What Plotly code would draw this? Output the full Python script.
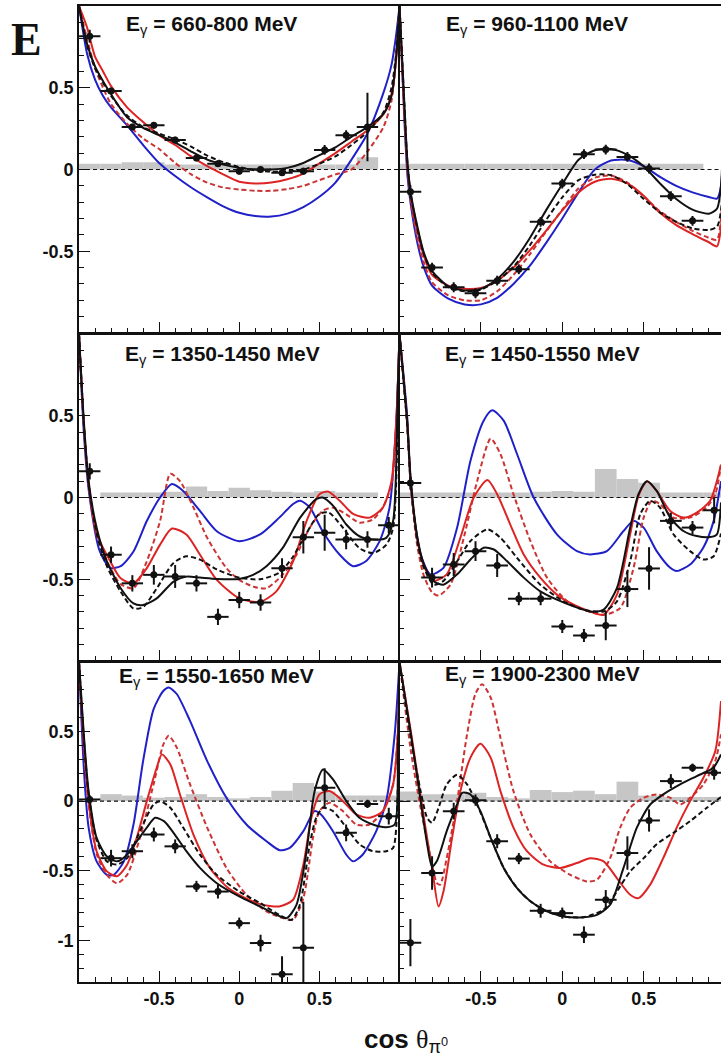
import plotly.graph_objects as go

# ---------------------------------------------------------------------------
# Binning in cos(theta_pi0): 15 bins of width 2/15
# ---------------------------------------------------------------------------
cos_bins = [-0.933, -0.8, -0.667, -0.533, -0.4, -0.267, -0.133, 0.0,
            0.133, 0.267, 0.4, 0.533, 0.667, 0.8, 0.933]
bin_width = 0.1333

# ---------------------------------------------------------------------------
# E_gamma = 660-800 MeV
# ---------------------------------------------------------------------------
e660_y = [0.815, 0.48, 0.26, 0.27, 0.18, 0.07, 0.035, -0.01, 0.0, -0.02, -0.01, 0.12, 0.21, 0.26]
e660_err = [0.04, 0.02, 0.02, 0.02, 0.02, 0.02, 0.02, 0.02, 0.01, 0.02, 0.02, 0.03, 0.03, 0.21]
e660_sys = [0.035, 0.035, 0.045, 0.045, 0.03, 0.03, 0.03, 0.03, 0.03, 0.03, 0.03, 0.03, 0.03, 0.075, 0.0]
e660_grid = [-1, -0.95, -0.9, -0.85, -0.8, -0.7, -0.6, -0.5, -0.4, -0.3, -0.2, -0.1, 0,
             0.1, 0.2, 0.3, 0.4, 0.5, 0.6, 0.7, 0.8, 0.9, 0.95, 0.98, 1]
e660_bs = [1.0, 0.77, 0.63, 0.54, 0.46, 0.32, 0.255, 0.21, 0.165, 0.11, 0.06, 0.03, 0.01,
           0.0, 0.0, 0.01, 0.04, 0.088, 0.135, 0.2, 0.26, 0.34, 0.45, 0.7, 1.0]
e660_bd = [1.0, 0.76, 0.62, 0.53, 0.45, 0.33, 0.26, 0.22, 0.185, 0.14, 0.085, 0.045, 0.015,
           -0.005, -0.013, -0.01, 0.0, 0.035, 0.08, 0.15, 0.23, 0.35, 0.5, 0.72, 1.0]
e660_rs = [1.0, 0.87, 0.69, 0.6, 0.51, 0.38, 0.29, 0.21, 0.15, 0.08, 0.02, -0.03, -0.075,
           -0.085, -0.08, -0.06, -0.025, 0.037, 0.1, 0.17, 0.24, 0.34, 0.46, 0.68, 1.0]
e660_rd = [1.0, 0.8, 0.62, 0.5, 0.4, 0.28, 0.19, 0.125, 0.04, -0.03, -0.08, -0.11, -0.122,
           -0.13, -0.13, -0.12, -0.1, -0.065, -0.03, 0.0, 0.11, 0.26, 0.42, 0.7, 1.0]
e660_bl = [1.0, 0.71, 0.55, 0.45, 0.38, 0.27, 0.15, 0.04, -0.04, -0.11, -0.17, -0.225, -0.265,
           -0.285, -0.288, -0.27, -0.23, -0.167, -0.08, 0.06, 0.22, 0.47, 0.64, 0.83, 1.0]

# ---------------------------------------------------------------------------
# E_gamma = 960-1100 MeV
# ---------------------------------------------------------------------------
e960_y = [-0.136, -0.60, -0.72, -0.757, -0.68, -0.61, -0.32, -0.086, 0.094, 0.122, 0.077, 0.006, -0.163, -0.314]
e960_err = [0.04, 0.03, 0.03, 0.03, 0.03, 0.03, 0.03, 0.03, 0.03, 0.03, 0.03, 0.03, 0.03, 0.03]
e960_sys = [0.035, 0.035, 0.035, 0.035, 0.035, 0.035, 0.035, 0.035, 0.035, 0.035, 0.035, 0.035, 0.035, 0.035, 0.0]
e960_grid = [-1, -0.97, -0.95, -0.93, -0.89, -0.85, -0.8, -0.7, -0.6, -0.5, -0.4, -0.3, -0.2, -0.1,
             0, 0.1, 0.2, 0.3, 0.4, 0.5, 0.6, 0.7, 0.8, 0.9, 0.95, 0.975, 1]
e960_bs = [1.0, 0.4, 0.03, -0.147, -0.35, -0.51, -0.62, -0.715, -0.74, -0.73, -0.67, -0.565, -0.42, -0.25,
           -0.09, 0.06, 0.118, 0.125, 0.09, 0.02, -0.085, -0.18, -0.245, -0.27, -0.24, -0.1, 1.0]
e960_bd = [1.0, 0.4, 0.02, -0.16, -0.36, -0.52, -0.63, -0.72, -0.745, -0.735, -0.68, -0.595, -0.465, -0.31,
           -0.17, -0.065, -0.032, -0.035, -0.09, -0.18, -0.262, -0.32, -0.36, -0.37, -0.35, -0.25, 1.0]
e960_rs = [1.0, 0.35, 0.0, -0.17, -0.38, -0.53, -0.645, -0.71, -0.73, -0.725, -0.68, -0.6, -0.495, -0.375,
           -0.25, -0.14, -0.075, -0.056, -0.085, -0.16, -0.265, -0.34, -0.395, -0.445, -0.47, -0.35, 1.0]
e960_rd = [1.0, 0.35, -0.02, -0.2, -0.42, -0.57, -0.69, -0.77, -0.8, -0.8, -0.745, -0.645, -0.52, -0.38,
           -0.245, -0.115, -0.05, -0.037, -0.08, -0.165, -0.255, -0.32, -0.375, -0.418, -0.43, -0.3, 1.0]
e960_bl = [1.0, 0.3, -0.05, -0.22, -0.45, -0.6, -0.71, -0.79, -0.825, -0.825, -0.785, -0.7, -0.59, -0.45,
           -0.3, -0.14, 0.0, 0.055, 0.058, 0.02, -0.045, -0.1, -0.14, -0.168, -0.178, -0.1, 1.0]

# ---------------------------------------------------------------------------
# E_gamma = 1350-1450 MeV
# ---------------------------------------------------------------------------
e1350_y = [0.16, -0.35, -0.525, -0.473, -0.483, -0.525, -0.73, -0.627, -0.642, -0.432, -0.243, -0.216, -0.257, -0.257, -0.169]
e1350_err = [0.05, 0.05, 0.05, 0.06, 0.07, 0.05, 0.05, 0.05, 0.05, 0.06, 0.1, 0.11, 0.06, 0.05, 0.05]
e1350_sys = [0.0, 0.03, 0.03, 0.03, 0.035, 0.068, 0.04, 0.06, 0.045, 0.035, 0.03, 0.04, 0.03, 0.03, 0.0]
e1350_bs_x = [-1, -0.97, -0.94, -0.89, -0.826, -0.74, -0.66, -0.6, -0.515, -0.41, -0.33, -0.245, -0.14, 0,
              0.087, 0.17, 0.27, 0.38, 0.48, 0.52, 0.585, 0.668, 0.75, 0.834, 0.917, 0.96, 0.99, 1]
e1350_bs_y = [1.0, 0.47, 0.1, -0.185, -0.39, -0.555, -0.648, -0.658, -0.617, -0.514, -0.484, -0.49, -0.498, -0.498,
              -0.473, -0.42, -0.31, -0.123, -0.01, 0.0, -0.05, -0.165, -0.237, -0.257, -0.247, -0.144, 0.68, 1.0]
e1350_bd_x = [-1, -0.97, -0.94, -0.89, -0.826, -0.74, -0.66, -0.6, -0.515, -0.41, -0.33, -0.245, -0.14, 0,
              0.13, 0.25, 0.33, 0.415, 0.5, 0.56, 0.647, 0.75, 0.834, 0.917, 0.96, 0.99, 1]
e1350_bd_y = [1.0, 0.45, 0.08, -0.22, -0.42, -0.576, -0.679, -0.67, -0.556, -0.40, -0.36, -0.38, -0.44, -0.49,
              -0.5, -0.46, -0.37, -0.226, -0.10, -0.093, -0.185, -0.31, -0.34, -0.29, -0.185, 0.5, 1.0]
e1350_rs_x = [-1, -0.97, -0.94, -0.89, -0.805, -0.74, -0.66, -0.577, -0.494, -0.42, -0.33, -0.245, -0.14, 0,
              0.13, 0.23, 0.336, 0.42, 0.5, 0.554, 0.627, 0.71, 0.813, 0.896, 0.95, 0.98, 1]
e1350_rs_y = [1.0, 0.45, 0.08, -0.22, -0.39, -0.494, -0.525, -0.432, -0.288, -0.19, -0.226, -0.35, -0.504, -0.617,
              -0.638, -0.576, -0.39, -0.144, 0.02, 0.037, -0.02, -0.10, -0.123, -0.062, 0.1, 0.47, 1.0]
e1350_rd_x = [-1, -0.97, -0.94, -0.89, -0.805, -0.74, -0.66, -0.577, -0.494, -0.43, -0.37, -0.286, -0.2, -0.08,
              0, 0.087, 0.17, 0.27, 0.357, 0.44, 0.52, 0.585, 0.668, 0.75, 0.834, 0.896, 0.95, 0.98, 1]
e1350_rd_y = [1.0, 0.45, 0.08, -0.23, -0.43, -0.53, -0.555, -0.39, -0.144, 0.145, 0.1, -0.06, -0.247, -0.432,
              -0.504, -0.545, -0.555, -0.473, -0.35, -0.185, -0.082, -0.062, -0.103, -0.154, -0.134, -0.06, 0.08, 0.45, 1.0]
e1350_bl_x = [-1, -0.97, -0.94, -0.87, -0.805, -0.74, -0.66, -0.577, -0.494, -0.42, -0.35, -0.245, -0.14, 0,
              0.13, 0.25, 0.336, 0.38, 0.44, 0.52, 0.627, 0.71, 0.79, 0.876, 0.938, 0.98, 1]
e1350_bl_y = [1.0, 0.4, 0.05, -0.33, -0.43, -0.42, -0.33, -0.144, 0.0, 0.082, 0.04, -0.082, -0.206, -0.267,
              -0.226, -0.123, -0.04, -0.02, -0.06, -0.206, -0.35, -0.42, -0.39, -0.267, -0.06, 0.47, 1.0]

# ---------------------------------------------------------------------------
# E_gamma = 1450-1550 MeV
# ---------------------------------------------------------------------------
e1450_y = [0.088, -0.49, -0.41, -0.328, -0.416, -0.619, -0.619, -0.789, -0.844, -0.783, -0.56, -0.434, -0.143, -0.184, -0.078]
e1450_err = [0.04, 0.06, 0.07, 0.06, 0.07, 0.04, 0.04, 0.04, 0.04, 0.09, 0.11, 0.13, 0.05, 0.04, 0.08]
e1450_sys = [0.03, 0.03, 0.03, 0.03, 0.03, 0.03, 0.035, 0.04, 0.035, 0.174, 0.113, 0.09, 0.03, 0.03, 0.03]
e1450_bs_x = [-1, -0.953, -0.93, -0.89, -0.85, -0.79, -0.73, -0.646, -0.564, -0.483, -0.42, -0.34, -0.237, -0.135,
              -0.033, 0.07, 0.17, 0.254, 0.336, 0.417, 0.468, 0.52, 0.58, 0.663, 0.744, 0.826, 0.908, 0.95, 0.975]
e1450_bs_y = [1.0, 0.47, 0.1, -0.246, -0.41, -0.512, -0.533, -0.47, -0.379, -0.307, -0.318, -0.389, -0.49, -0.574,
              -0.625, -0.666, -0.697, -0.686, -0.553, -0.184, 0.02, 0.10, 0.04, -0.123, -0.205, -0.236, -0.242, -0.225, -0.03]
e1450_bd_x = [-1, -0.953, -0.93, -0.89, -0.85, -0.79, -0.73, -0.646, -0.564, -0.46, -0.38, -0.278, -0.135, 0.008,
              0.13, 0.254, 0.336, 0.417, 0.48, 0.54, 0.6, 0.683, 0.785, 0.866, 0.93, 0.975]
e1450_bd_y = [1.0, 0.45, 0.08, -0.27, -0.43, -0.533, -0.51, -0.39, -0.266, -0.195, -0.246, -0.369, -0.533, -0.635,
              -0.686, -0.697, -0.635, -0.39, -0.10, -0.02, -0.061, -0.225, -0.328, -0.379, -0.359, -0.22]
e1450_rs_x = [-1, -0.953, -0.93, -0.89, -0.85, -0.79, -0.71, -0.626, -0.544, -0.46, -0.40, -0.32, -0.237, -0.135,
              -0.033, 0.07, 0.17, 0.254, 0.336, 0.417, 0.468, 0.52, 0.58, 0.663, 0.744, 0.826, 0.908, 0.975]
e1450_rs_y = [1.0, 0.45, 0.08, -0.26, -0.42, -0.51, -0.47, -0.246, 0.0, 0.107, 0.02, -0.164, -0.348, -0.49,
              -0.594, -0.656, -0.697, -0.717, -0.594, -0.225, 0.01, 0.10, 0.04, -0.082, -0.123, -0.092, -0.02, 0.2]
e1450_rd_x = [-1, -0.953, -0.93, -0.89, -0.85, -0.80, -0.76, -0.687, -0.605, -0.523, -0.44, -0.38, -0.3, -0.196,
              -0.094, 0.03, 0.13, 0.254, 0.356, 0.438, 0.5, 0.55, 0.6, 0.683, 0.785, 0.887, 0.94, 0.975]
e1450_rd_y = [1.0, 0.45, 0.06, -0.3, -0.48, -0.58, -0.60, -0.533, -0.246, 0.10, 0.36, 0.266, 0.02, -0.266,
              -0.49, -0.635, -0.686, -0.717, -0.676, -0.43, -0.123, -0.02, -0.04, -0.123, -0.123, -0.06, 0.02, 0.2]
e1450_bl_x = [-1, -0.953, -0.93, -0.87, -0.81, -0.73, -0.646, -0.564, -0.483, -0.43, -0.36, -0.278, -0.176, -0.033,
              0.09, 0.17, 0.274, 0.376, 0.438, 0.5, 0.58, 0.663, 0.703, 0.785, 0.866, 0.93, 0.975]
e1450_bl_y = [1.0, 0.5, 0.06, -0.348, -0.47, -0.43, -0.184, 0.225, 0.47, 0.533, 0.47, 0.266, 0.0, -0.225,
              -0.328, -0.348, -0.328, -0.205, -0.143, -0.184, -0.328, -0.43, -0.45, -0.41, -0.307, -0.143, 0.1]

# ---------------------------------------------------------------------------
# E_gamma = 1550-1650 MeV
# ---------------------------------------------------------------------------
e1550_y = [0.012, -0.41, -0.36, -0.24, -0.325, -0.613, -0.65, -0.877, -1.02, -1.245, -1.053, 0.096, -0.228, -0.02, -0.108]
e1550_err = [0.03, 0.06, 0.05, 0.05, 0.05, 0.04, 0.05, 0.04, 0.06, 0.13, 0.33, 0.14, 0.06, 0.03, 0.06]
e1550_sys = [0.0, 0.05, 0.04, 0.025, 0.03, 0.05, 0.03, 0.02, 0.03, 0.075, 0.13, 0.07, 0.04, 0.04, 0.04]
e1550_bs_x = [-1, -0.97, -0.94, -0.89, -0.826, -0.763, -0.70, -0.64, -0.577, -0.525, -0.47, -0.41, -0.33, -0.245,
              -0.14, 0, 0.13, 0.232, 0.295, 0.357, 0.42, 0.47, 0.523, 0.585, 0.668, 0.75, 0.834, 0.917, 0.97, 0.99, 1]
e1550_bs_y = [1.0, 0.48, 0.07, -0.264, -0.397, -0.433, -0.385, -0.29, -0.19, -0.12, -0.144, -0.228, -0.36, -0.48,
              -0.59, -0.685, -0.757, -0.817, -0.841, -0.745, -0.36, 0.07, 0.228, 0.156, 0.0, -0.12, -0.168, -0.187, -0.168, 0.36, 1.0]
e1550_bd_x = [-1, -0.97, -0.94, -0.89, -0.826, -0.763, -0.70, -0.62, -0.535, -0.494, -0.43, -0.35, -0.245, -0.14,
              0, 0.13, 0.25, 0.326, 0.378, 0.44, 0.48, 0.523, 0.585, 0.668, 0.75, 0.834, 0.917, 0.96, 0.99, 1]
e1550_bd_y = [1.0, 0.45, 0.05, -0.28, -0.433, -0.456, -0.41, -0.216, -0.024, 0.0, -0.048, -0.19, -0.385, -0.53,
              -0.65, -0.733, -0.817, -0.853, -0.745, -0.31, -0.12, -0.048, -0.072, -0.19, -0.31, -0.36, -0.36, -0.336, 0.12, 1.0]
e1550_rs_x = [-1, -0.97, -0.94, -0.89, -0.826, -0.763, -0.70, -0.64, -0.577, -0.515, -0.483, -0.43, -0.37, -0.286,
              -0.183, -0.08, 0, 0.13, 0.25, 0.336, 0.4, 0.45, 0.5, 0.564, 0.647, 0.73, 0.813, 0.896, 0.96, 0.99, 1]
e1550_rs_y = [1.0, 0.42, 0.0, -0.36, -0.505, -0.54, -0.457, -0.264, 0.0, 0.24, 0.336, 0.264, 0.048, -0.24,
              -0.48, -0.613, -0.673, -0.74, -0.757, -0.709, -0.457, -0.12, 0.048, 0.072, 0.0, -0.096, -0.12, -0.072, 0.12, 0.5, 1.0]
e1550_rd_x = [-1, -0.97, -0.94, -0.89, -0.826, -0.763, -0.7, -0.62, -0.535, -0.473, -0.44, -0.39, -0.307, -0.2,
              -0.08, 0.045, 0.17, 0.274, 0.336, 0.4, 0.46, 0.5, 0.564, 0.647, 0.73, 0.813, 0.896, 0.96, 0.99, 1]
e1550_rd_y = [1.0, 0.4, -0.02, -0.38, -0.53, -0.59, -0.53, -0.264, 0.12, 0.41, 0.47, 0.385, 0.12, -0.19,
              -0.48, -0.673, -0.793, -0.841, -0.853, -0.697, -0.264, -0.072, -0.012, -0.072, -0.168, -0.168, -0.072, 0.12, 0.5, 1.0]
e1550_bl_x = [-1, -0.97, -0.94, -0.89, -0.826, -0.784, -0.72, -0.66, -0.6, -0.535, -0.473, -0.44, -0.39, -0.307,
              -0.2, -0.08, 0.045, 0.17, 0.253, 0.315, 0.4, 0.47, 0.51, 0.585, 0.668, 0.71, 0.77, 0.855, 0.917, 0.97, 1]
e1550_bl_y = [1.0, 0.24, -0.19, -0.433, -0.53, -0.53, -0.433, -0.168, 0.288, 0.66, 0.793, 0.817, 0.77, 0.577,
              0.288, 0.024, -0.168, -0.288, -0.353, -0.336, -0.216, -0.072, -0.096, -0.216, -0.385, -0.433, -0.385, -0.216, 0.0, 0.48, 1.0]

# ---------------------------------------------------------------------------
# E_gamma = 1900-2300 MeV
# ---------------------------------------------------------------------------
e1900_y = [-1.017, -0.517, -0.072, 0.007, -0.288, -0.413, -0.788, -0.805, -0.96, -0.709, -0.373, -0.139, 0.144, 0.24, 0.204]
e1900_err = [0.17, 0.12, 0.06, 0.04, 0.05, 0.04, 0.05, 0.04, 0.06, 0.07, 0.12, 0.08, 0.05, 0.03, 0.05]
e1900_sys = [0.07, 0.05, 0.05, 0.06, 0.03, 0.02, 0.08, 0.065, 0.075, 0.05, 0.14, 0.04, 0.03, 0.03, 0.03]
e1900_bs_x = [-1, -0.93, -0.87, -0.83, -0.8, -0.77, -0.71, -0.646, -0.615, -0.564, -0.503, -0.44, -0.36, -0.278,
              -0.196, -0.094, 0.008, 0.13, 0.213, 0.294, 0.376, 0.458, 0.54, 0.62, 0.724, 0.826, 0.928, 0.975]
e1900_bs_y = [1.0, 0.48, 0.0, -0.31, -0.47, -0.43, -0.216, -0.024, 0.06, 0.048, -0.072, -0.264, -0.48, -0.625,
              -0.72, -0.793, -0.829, -0.834, -0.817, -0.745, -0.48, -0.19, -0.024, 0.048, 0.12, 0.18, 0.24, 0.336]
e1900_bd_x = [-1, -0.93, -0.87, -0.83, -0.8, -0.76, -0.71, -0.646, -0.585, -0.523, -0.44, -0.36, -0.278, -0.196,
              -0.094, 0.008, 0.13, 0.254, 0.335, 0.417, 0.5, 0.58, 0.683, 0.785, 0.888, 0.975]
e1900_bd_y = [1.0, 0.45, 0.07, -0.12, -0.156, -0.048, 0.12, 0.19, 0.12, -0.024, -0.264, -0.48, -0.625, -0.72,
              -0.793, -0.829, -0.834, -0.78, -0.65, -0.505, -0.41, -0.31, -0.228, -0.144, -0.048, 0.03]
e1900_rs_x = [-1, -0.93, -0.85, -0.8, -0.76, -0.73, -0.677, -0.626, -0.564, -0.503, -0.44, -0.38, -0.3, -0.217,
              -0.115, -0.012, 0.09, 0.172, 0.254, 0.335, 0.417, 0.468, 0.54, 0.62, 0.703, 0.785, 0.867, 0.94, 0.975]
e1900_rs_y = [1.0, 0.5, -0.12, -0.48, -0.757, -0.65, -0.264, 0.072, 0.313, 0.413, 0.313, 0.072, -0.19, -0.36,
              -0.457, -0.48, -0.445, -0.41, -0.433, -0.553, -0.673, -0.697, -0.6, -0.41, -0.19, 0.0, 0.168, 0.36, 0.72]
e1900_rd_x = [-1, -0.93, -0.87, -0.81, -0.77, -0.75, -0.71, -0.646, -0.585, -0.534, -0.493, -0.44, -0.38, -0.3,
              -0.196, -0.074, 0.05, 0.15, 0.213, 0.294, 0.356, 0.417, 0.5, 0.58, 0.663, 0.724, 0.785, 0.867, 0.94, 0.975]
e1900_rd_y = [1.0, 0.36, -0.05, -0.4, -0.59, -0.6, -0.41, 0.0, 0.48, 0.77, 0.84, 0.745, 0.456, 0.072,
              -0.24, -0.433, -0.53, -0.577, -0.565, -0.41, -0.19, -0.048, 0.024, 0.048, 0.024, -0.024, 0.024, 0.12, 0.29, 0.48]

# ---------------------------------------------------------------------------
# Styling
# ---------------------------------------------------------------------------
W, H = 721, 1059
BLACK = "#111111"
RED = "#dd2424"
RED_D = "#cc3333"
BLUE = "#2020c8"
GREY = "#c6c6c6"
DASH = "5px,3px"
SANS = "Liberation Sans, Arial, sans-serif"


def px_x(p):
    return p / W


def px_y(p):
    return 1 - p / H


# panel geometry (pixel edges) -> paper domains
col_dom = {"L": [px_x(79), px_x(399.5)], "R": [px_x(399.5), 1.0]}
row_dom = {
    "T": [px_y(333), px_y(6)],
    "M": [px_y(661), px_y(334)],
    "B": [px_y(982), px_y(662)],
}
col_rng = {"L": [-1.0, 1.0], "R": [-1.0, 0.975]}
row_rng = {"T": [-1.0, 1.0], "M": [-1.0, 1.0], "B": [-1.3, 1.0]}

panels = [
    dict(n=1, col="L", row="T", label="660-800", y=e660_y, err=e660_err, sys=e660_sys,
         curves=[(e660_grid, e660_bl, BLUE, None), (e660_grid, e660_rd, RED_D, DASH),
                 (e660_grid, e660_rs, RED, None), (e660_grid, e660_bd, BLACK, DASH),
                 (e660_grid, e660_bs, BLACK, None)], title_px=(211, 25)),
    dict(n=2, col="R", row="T", label="960-1100", y=e960_y, err=e960_err, sys=e960_sys,
         curves=[(e960_grid, e960_bl, BLUE, None), (e960_grid, e960_rd, RED_D, DASH),
                 (e960_grid, e960_rs, RED, None), (e960_grid, e960_bd, BLACK, DASH),
                 (e960_grid, e960_bs, BLACK, None)], title_px=(537, 25)),
    dict(n=3, col="L", row="M", label="1350-1450", y=e1350_y, err=e1350_err, sys=e1350_sys,
         curves=[(e1350_bl_x, e1350_bl_y, BLUE, None), (e1350_rd_x, e1350_rd_y, RED_D, DASH),
                 (e1350_rs_x, e1350_rs_y, RED, None), (e1350_bd_x, e1350_bd_y, BLACK, DASH),
                 (e1350_bs_x, e1350_bs_y, BLACK, None)], title_px=(223, 355)),
    dict(n=4, col="R", row="M", label="1450-1550", y=e1450_y, err=e1450_err, sys=e1450_sys,
         curves=[(e1450_bl_x, e1450_bl_y, BLUE, None), (e1450_rd_x, e1450_rd_y, RED_D, DASH),
                 (e1450_rs_x, e1450_rs_y, RED, None), (e1450_bd_x, e1450_bd_y, BLACK, DASH),
                 (e1450_bs_x, e1450_bs_y, BLACK, None)], title_px=(542, 355)),
    dict(n=5, col="L", row="B", label="1550-1650", y=e1550_y, err=e1550_err, sys=e1550_sys,
         curves=[(e1550_bl_x, e1550_bl_y, BLUE, None), (e1550_rd_x, e1550_rd_y, RED_D, DASH),
                 (e1550_rs_x, e1550_rs_y, RED, None), (e1550_bd_x, e1550_bd_y, BLACK, DASH),
                 (e1550_bs_x, e1550_bs_y, BLACK, None)], title_px=(217, 677)),
    dict(n=6, col="R", row="B", label="1900-2300", y=e1900_y, err=e1900_err, sys=e1900_sys,
         curves=[(e1900_rd_x, e1900_rd_y, RED_D, DASH), (e1900_rs_x, e1900_rs_y, RED, None),
                 (e1900_bd_x, e1900_bd_y, BLACK, DASH), (e1900_bs_x, e1900_bs_y, BLACK, None)],
         title_px=(542, 675)),
]

fig = go.Figure()
layout_axes = {}
annotations = []

for p in panels:
    n = p["n"]
    xa, ya = f"x{n}", f"y{n}"
    xr, yr = col_rng[p["col"]], row_rng[p["row"]]

    # systematic uncertainty histogram
    fig.add_trace(go.Bar(x=cos_bins, y=p["sys"], width=bin_width, marker_color=GREY,
                         marker_line_width=0, xaxis=xa, yaxis=ya, hoverinfo="skip"))
    # dashed zero line across the panel
    fig.add_trace(go.Scatter(x=xr, y=[0, 0], mode="lines", xaxis=xa, yaxis=ya,
                             line=dict(color=BLACK, width=1.1, dash="4px,3px"), hoverinfo="skip"))
    # model curves
    for cx, cy, col, dash in p["curves"]:
        fig.add_trace(go.Scatter(x=cx, y=cy, mode="lines", xaxis=xa, yaxis=ya,
                                 line=dict(color=col, width=2, dash=dash, shape="spline", smoothing=0.7)))
    # measured points
    npts = len(p["y"])
    fig.add_trace(go.Scatter(
        x=cos_bins[:npts], y=p["y"], mode="markers", xaxis=xa, yaxis=ya,
        marker=dict(color=BLACK, size=7, symbol="circle"),
        error_x=dict(type="constant", value=bin_width / 2, thickness=2, width=0, color=BLACK),
        error_y=dict(type="data", array=p["err"], thickness=2, width=0, color=BLACK),
    ))

    bottom = p["row"] == "B"
    left = p["col"] == "L"
    key = "" if n == 1 else str(n)
    layout_axes[f"xaxis{key}"] = dict(
        domain=col_dom[p["col"]], range=xr, anchor=ya,
        showline=True, linecolor=BLACK, linewidth=1.6, mirror=True,
        ticks="inside", ticklen=11, tickwidth=1.3, tickcolor=BLACK,
        tickmode="array", tickvals=[-0.5, 0, 0.5], ticktext=["-0.5", "0", "0.5"],
        showticklabels=bottom, showgrid=False, zeroline=False,
        minor=dict(ticks="inside", ticklen=5, tickwidth=1.1, tickcolor=BLACK,
                   dtick=0.1, tick0=0, showgrid=False),
        tickfont=dict(family=SANS, size=18, color=BLACK, weight="bold"),
    )
    yvals = [-1, -0.5, 0, 0.5] if p["row"] == "B" else [-0.5, 0, 0.5]
    layout_axes[f"yaxis{key}"] = dict(
        domain=row_dom[p["row"]], range=yr, anchor=xa,
        showline=True, linecolor=BLACK, linewidth=1.6, mirror=False,
        ticks="inside", ticklen=11, tickwidth=1.3, tickcolor=BLACK,
        tickmode="array", tickvals=yvals, ticktext=[f"{v:g}" for v in yvals],
        showticklabels=left, showgrid=False, zeroline=False,
        minor=dict(ticks="inside", ticklen=5, tickwidth=1.1, tickcolor=BLACK,
                   dtick=0.1, tick0=0, showgrid=False),
        tickfont=dict(family=SANS, size=18, color=BLACK, weight="bold"),
    )

    tx, ty = p["title_px"]
    annotations.append(dict(
        text=f"<b>E</b><sub>γ</sub><b> = {p['label']} MeV</b>", x=px_x(tx), y=px_y(ty),
        xref="paper", yref="paper", xanchor="center", yanchor="middle", showarrow=False,
        font=dict(family=SANS, size=21, color=BLACK),
    ))

# panel letter and common x-axis title
annotations.append(dict(text="<b>E</b>", x=px_x(26), y=px_y(40), xref="paper", yref="paper",
                        xanchor="center", yanchor="middle", showarrow=False,
                        font=dict(family="Liberation Serif, Times New Roman, serif", size=46, color=BLACK)))
annotations.append(dict(
    text="<b>cos</b> <span style='font-family:Liberation Serif'>θ</span><sub>π<sup>0</sup></sub>",
    x=px_x(406), y=px_y(1040), xref="paper", yref="paper", xanchor="center", yanchor="middle",
    showarrow=False, font=dict(family=SANS, size=26, color=BLACK)))

fig.update_layout(
    width=W, height=H, margin=dict(l=0, r=0, t=0, b=0),
    paper_bgcolor="white", plot_bgcolor="white", showlegend=False,
    barmode="overlay", annotations=annotations, **layout_axes,
)

fig.write_html("out.html")
